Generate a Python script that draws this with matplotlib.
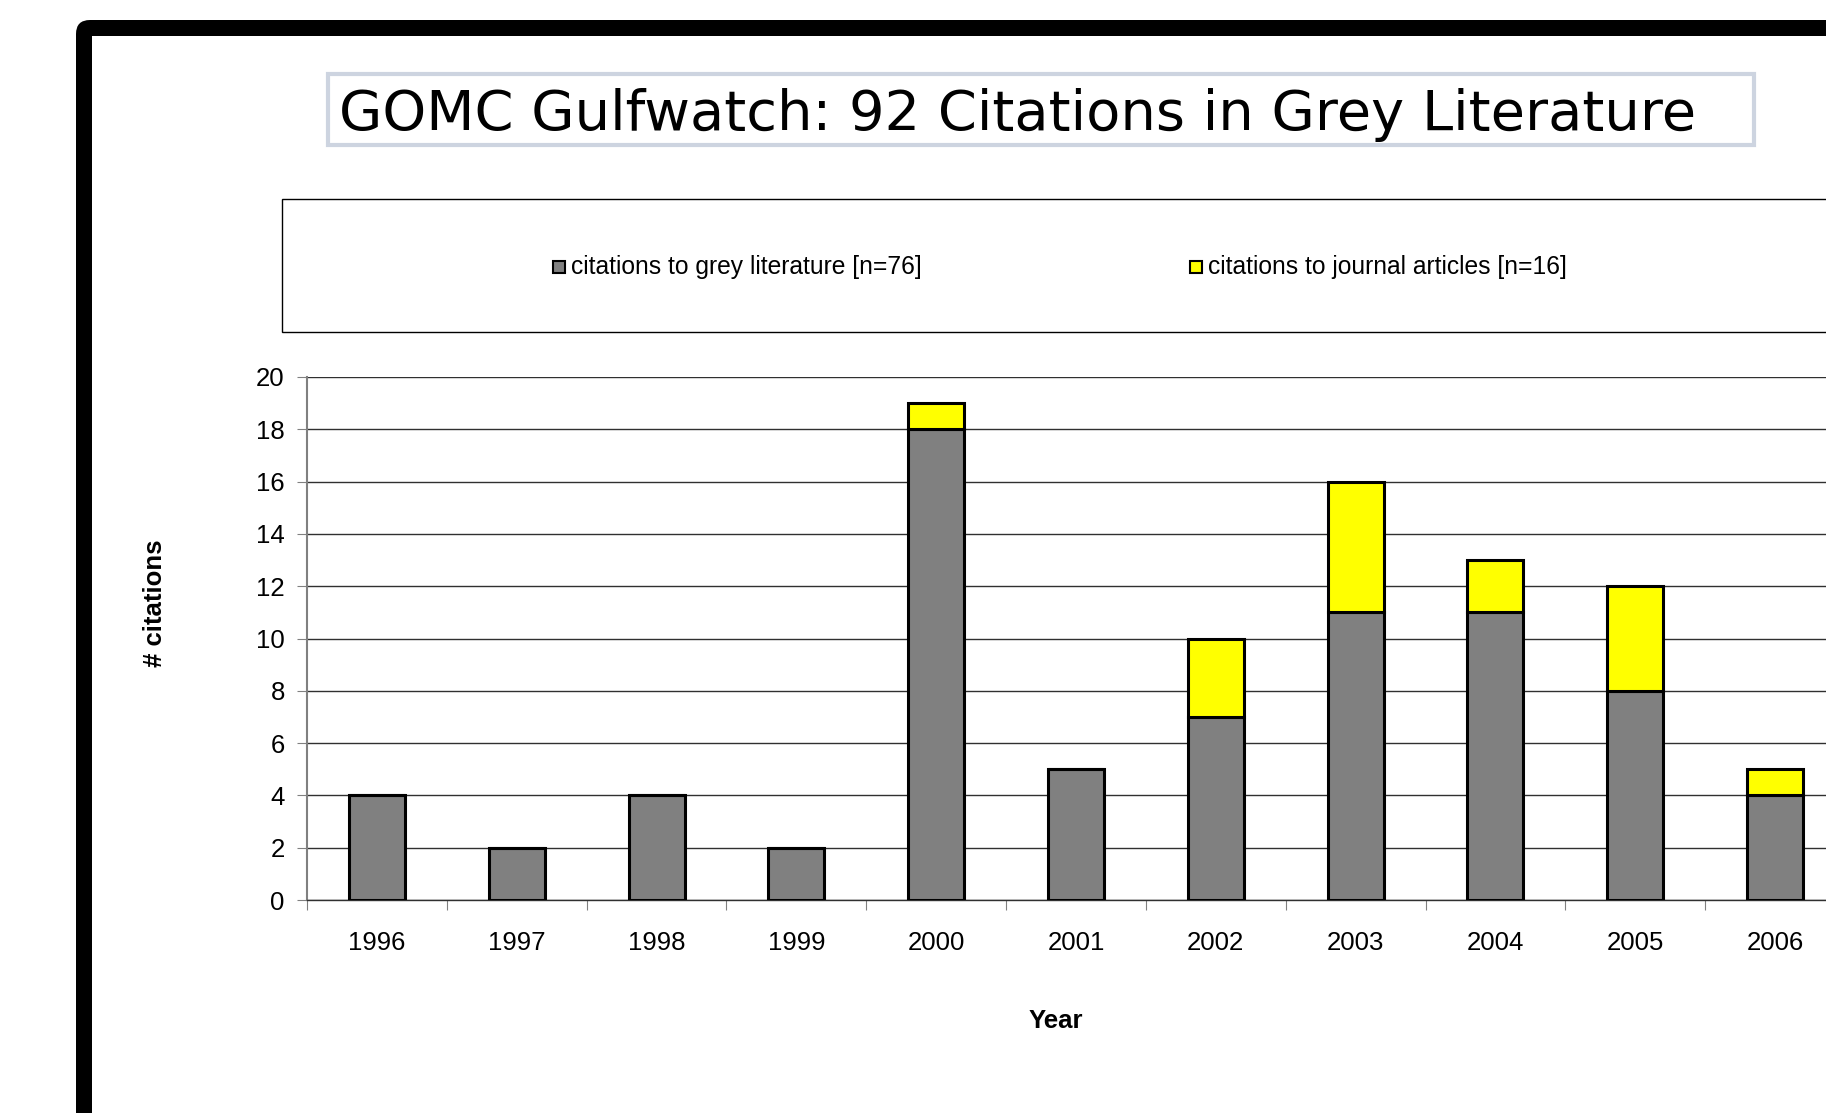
import numpy as np
import matplotlib
matplotlib.use("Agg")
import matplotlib.pyplot as plt
from matplotlib.patches import Rectangle, FancyBboxPatch

# data
years = ['1996', '1997', '1998', '1999', '2000', '2001', '2002', '2003', '2004', '2005', '2006']
grey_lit = [4, 2, 4, 2, 18, 5, 7, 11, 11, 8, 4]
journal = [0, 0, 0, 0, 1, 0, 3, 5, 2, 4, 1]
title = 'GOMC Gulfwatch: 92 Citations in Grey Literature'
legend_labels = ['citations to grey literature [n=76]', 'citations to journal articles [n=16]']
yticks = list(range(0, 21, 2))

W, H = 1826, 1113
plt.rcParams['font.family'] = ['Liberation Sans', 'DejaVu Sans']
fig = plt.figure(figsize=(W / 100, H / 100), dpi=100)

# background layer in pixel coords (y down)
bg = fig.add_axes([0, 0, 1, 1], zorder=0)
bg.set_xlim(0, W)
bg.set_ylim(H, 0)
bg.axis('off')

# thick black frame with rounded corner, running off the image
bg.add_patch(FancyBboxPatch((76, 20), 2200, 1400, boxstyle='round,pad=0,rounding_size=14',
                            fc='black', ec='none'))
bg.add_patch(Rectangle((92, 36), 2200, 1400, fc='white', ec='none'))

# title box
bg.add_patch(Rectangle((328, 74), 1426, 71, fc='white', ec='#cdd4e0', lw=3))
t = bg.text(339, 130, title, fontsize=40, family='DejaVu Sans', ha='left', va='baseline', color='black')
fig.canvas.draw()
bb = t.get_window_extent()
t.set_fontsize(40 * 1356 / bb.width)

# legend box
bg.add_patch(Rectangle((282, 199), 2000, 133, fc='white', ec='black', lw=1))
legend_x = [559, 1196]
for lx, lab, col in zip(legend_x, legend_labels, ['#808080', '#ffff00']):
    bg.add_patch(Rectangle((lx - 6, 261), 12, 12, fc=col, ec='black', lw=1.5))
    bg.text(lx + 12, 267, lab, fontsize=17.7, ha='left', va='center')

# main chart
ax = fig.add_axes([307 / W, 1 - 900 / H, (1845 - 307) / W, 523 / H], zorder=2)
ax.set_facecolor('none')
x = np.arange(len(years))
ax.bar(x, grey_lit, width=0.4, color='#808080', edgecolor='black', linewidth=2.2, zorder=3)
ax.bar(x, journal, width=0.4, bottom=grey_lit, color='#ffff00', edgecolor='black', linewidth=2.2, zorder=3)

ax.set_xlim(-0.5, len(years) - 0.5)
ax.set_ylim(0, 20)
ax.set_yticks(yticks)
ax.set_yticklabels([str(v) for v in yticks], fontsize=18.5)
ax.yaxis.grid(True, color='#303030', linewidth=1)
ax.set_axisbelow(True)

ax.set_xticks(np.arange(-0.5, len(years) - 0.4, 1))
ax.set_xticklabels([])
ax.set_xticks(x, minor=True)
ax.set_xticklabels(years, minor=True, fontsize=18.5)
ax.tick_params(axis='x', which='major', length=7, color='#808080', direction='out')
ax.tick_params(axis='x', which='minor', length=0, pad=22)
ax.tick_params(axis='y', length=7, color='#808080', pad=9)

for s in ['top', 'right']:
    ax.spines[s].set_visible(False)
ax.spines['left'].set_color('#808080')
ax.spines['left'].set_linewidth(1.5)
ax.spines['bottom'].set_color('#303030')
ax.spines['bottom'].set_linewidth(1)

bg.text(155, 603, '# citations', fontsize=18.5, fontweight='bold', rotation=90, ha='center', va='center')
bg.text(1056, 1021, 'Year', fontsize=18.5, fontweight='bold', ha='center', va='center')

fig.savefig('out.png', dpi=100)
